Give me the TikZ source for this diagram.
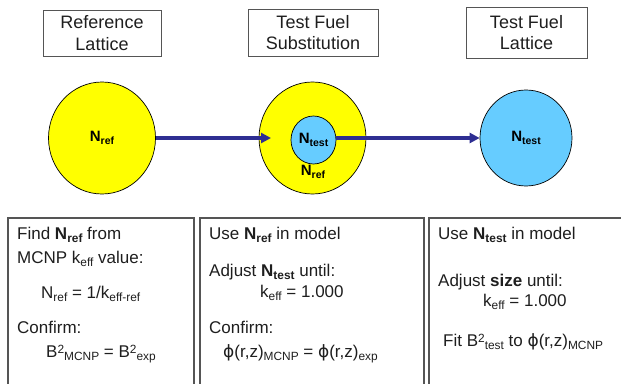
\documentclass[tikz,border=0pt]{standalone}
\usepackage{fontspec}
\setmainfont{Liberation Sans}
\newfontfamily\phifont{DejaVu Sans}
\usetikzlibrary{arrows.meta,shapes.geometric}

\definecolor{fuelyellow}{RGB}{255,255,0}
\definecolor{fuelblue}{RGB}{102,204,255}
\definecolor{flowblue}{RGB}{46,46,146}
\definecolor{framegray}{RGB}{85,85,85}
\definecolor{inkgray}{RGB}{30,30,30}

\makeatletter
\newcommand\lo[1]{\raisebox{-0.2em}{\fontsize{\fpeval{0.7*\f@size}}{1}\selectfont #1}}
\newcommand\hi[1]{\raisebox{0.23em}{\fontsize{\fpeval{0.7*\f@size}}{1}\selectfont #1}}
\makeatother
\newcommand\ph{{\phifont ϕ}}

\begin{document}
\begin{tikzpicture}[x=1pt,y=-1pt,
  titlebox/.style={draw=framegray, line width=0.9pt, inner sep=0pt, align=center,
    text=inkgray, font=\fontsize{18}{21.5}\selectfont},
  ball/.style={ellipse, draw=black, line width=0.7pt, inner sep=0pt,
    font=\fontsize{15}{17}\selectfont\bfseries},
  frame/.style={draw=framegray, line width=1.2pt},
  flow/.style={draw=flowblue, line width=3.4pt, -{Triangle[length=10pt,width=10pt]}},
  txt/.style={anchor=base west, inner sep=0pt, text=inkgray, font=\fontsize{17}{20}\selectfont}]
\useasboundingbox (0,0) rectangle (621,383);

% headings
\node[titlebox, minimum width=118, minimum height=46] (h1) at (102,33) {Reference\\Lattice};
\node[titlebox, minimum width=130, minimum height=47] (h2) at (313,32.5) {Test Fuel\\Substitution};
\node[titlebox, minimum width=121, minimum height=51] (h3) at (526.5,32.5) {Test Fuel\\Lattice};

% lattices
\node[ball, fill=fuelyellow, minimum width=107, minimum height=112] (c1) at (102,138) {N\lo{ref}};
\node[ball, fill=fuelyellow, minimum width=107, minimum height=112] (c2) at (312.5,138) {};
\node[ball, fill=fuelblue, minimum width=45, minimum height=48] (c2in) at (313.5,140) {N\lo{test}};
\node[font=\fontsize{15}{17}\selectfont\bfseries, inner sep=0pt] (c2lab) at (313,172) {N\lo{ref}};
\node[ball, fill=fuelblue, minimum width=92, minimum height=96] (c3) at (526,138) {N\lo{test}};

% flow arrows
\coordinate (a1tip) at (271,138);
\draw[flow] (c1.east) -- (a1tip);
\draw[flow] (c2in.east |- c3.west) -- (c3.west);

% step frames (open at the bottom)
\coordinate (f1a) at (8,384);   \coordinate (f1b) at (8,218);
\coordinate (f1c) at (194,218); \coordinate (f1d) at (194,384);
\coordinate (f2a) at (200,384); \coordinate (f2b) at (200,218);
\coordinate (f2c) at (424,218); \coordinate (f2d) at (424,384);
\coordinate (f3a) at (429,384); \coordinate (f3b) at (429,218);
\coordinate (f3c) at (622,218);
\draw[frame] (f1a) -- (f1b) -- (f1c) -- (f1d);
\draw[frame] (f2a) -- (f2b) -- (f2c) -- (f2d);
\draw[frame] (f3a) -- (f3b) -- (f3c);

% step 1
\node[txt] (s1a) at (17,239) {Find \textbf{N\lo{ref}} from};
\node[txt] (s1b) at (17,263) {MCNP k\lo{eff} value:};
\node[txt] (s1c) at (41,298) {N\lo{ref} = 1/k\lo{eff-ref}};
\node[txt] (s1d) at (17,333) {Confirm:};
\node[txt] (s1e) at (46,357) {B\hi{2}\lo{MCNP} = B\hi{2}\lo{exp}};

% step 2
\node[txt] (s2a) at (209,239) {Use \textbf{N\lo{ref}} in model};
\node[txt] (s2b) at (209,276) {Adjust \textbf{N\lo{test}} until:};
\node[txt] (s2c) at (260,297) {k\lo{eff} = 1.000};
\node[txt] (s2d) at (209,333) {Confirm:};
\node[txt] (s2e) at (223,357) {\ph(r,z)\lo{MCNP} = \ph(r,z)\lo{exp}};

% step 3
\node[txt] (s3a) at (438,239) {Use \textbf{N\lo{test}} in model};
\node[txt] (s3b) at (438,286) {Adjust \textbf{size} until:};
\node[txt] (s3c) at (483,306) {k\lo{eff} = 1.000};
\node[txt] (s3d) at (443,346) {Fit B\hi{2}\lo{test} to \ph(r,z)\lo{MCNP}};
\end{tikzpicture}
\end{document}
